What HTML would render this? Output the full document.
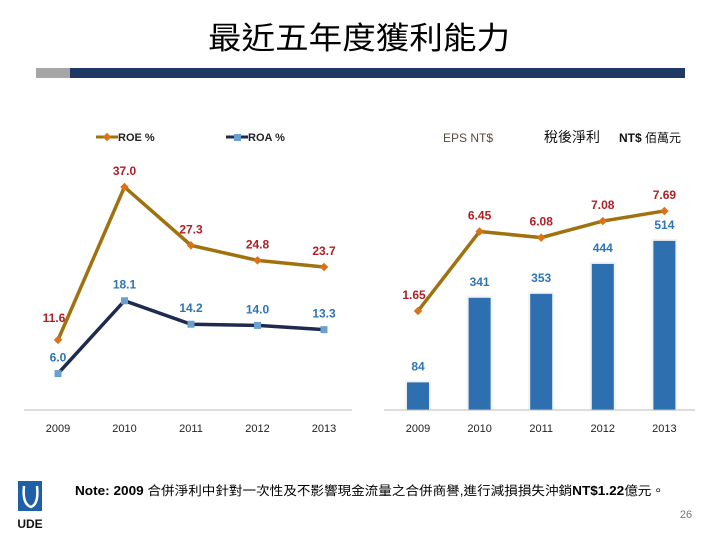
<!DOCTYPE html>
<html><head><meta charset="utf-8">
<style>
body{margin:0;width:720px;height:540px;background:#fff;overflow:hidden;font-family:"Liberation Sans","Noto Sans CJK TC",sans-serif;}
svg{position:absolute;left:0;top:0}
</style></head>
<body>
<svg width="720" height="540">
<text x="359" y="49" text-anchor="middle" font-size="31" textLength="302" lengthAdjust="spacingAndGlyphs" fill="#000" font-family="Liberation Sans, Noto Sans CJK TC, sans-serif">最近五年度獲利能力</text>
<rect x="36" y="68" width="34" height="10" fill="#a6a6a6"/>
<rect x="70" y="68" width="615" height="10" fill="#1f3864"/>
<g id="left"></g>
<g id="right"></g>
<g>
<rect x="18" y="481" width="24" height="30" fill="#1f5fa8"/>
<path d="M24 486 Q22 504 31 507 Q39 504 37 486" stroke="#fff" stroke-width="2.5" fill="none"/>
<text x="30" y="528" text-anchor="middle" font-size="12" font-weight="bold" fill="#111">UDE</text>
</g>
<text x="75" y="495" font-size="12.5" textLength="590" lengthAdjust="spacingAndGlyphs" fill="#000" font-family="Liberation Sans, Noto Sans CJK TC, sans-serif"><tspan font-weight="bold">Note: 2009</tspan> 合併淨利中針對一次性及不影響現金流量之合併商譽,進行減損損失沖銷<tspan font-weight="bold">NT$1.22</tspan>億元。</text>
<text x="686" y="518" text-anchor="middle" font-size="11" fill="#777">26</text>
</svg>
<script>
const years=["2009","2010","2011","2012","2013"];
const roe=[11.6,37.0,27.3,24.8,23.7];
const roa=[6.0,18.1,14.2,14.0,13.3];
const eps=[1.65,6.45,6.08,7.08,7.69];
const profit=[84,341,353,444,514];
const NS="http://www.w3.org/2000/svg";
function mk(p,t,a,txt){const e=document.createElementNS(NS,t);for(const k in a)e.setAttribute(k,a[k]);if(txt!==undefined)e.textContent=txt;p.appendChild(e);return e;}
const L=document.getElementById('left'),R=document.getElementById('right');
const lx=i=>58+i*66.5, ly=v=>409.7-6.02*v;
let e=mk(L,'line',{x1:24,y1:410,x2:352,y2:410,stroke:'#bbb','stroke-width':1});

years.forEach((y,i)=>{e=mk(L,'text',{x:lx(i),y:432,'text-anchor':'middle','font-size':11,fill:'#222'},y);
});
e=mk(L,'line',{x1:96,y1:137,x2:118,y2:137,stroke:'#a0720f','stroke-width':3});
e=mk(L,'rect',{x:104,y:134,width:6,height:6,fill:'#d9731a',transform:'rotate(45 107 137)'});
e=mk(L,'text',{x:118,y:141,'font-size':11,'font-weight':'bold',fill:'#222'},'ROE %');
e=mk(L,'line',{x1:226,y1:137,x2:248,y2:137,stroke:'#1f2a4f','stroke-width':3});
e=mk(L,'rect',{x:234,y:134,width:7,height:7,fill:'#6a9fcf'});
e=mk(L,'text',{x:248,y:141,'font-size':11,'font-weight':'bold',fill:'#222'},'ROA %');
function series(G,vals,fx,fy,col,mcol,shape,lcol,dy,fmt,name,firstDx,firstDy){
 e=mk(G,'polyline',{points:vals.map((v,i)=>fx(i)+','+fy(v)).join(' '),fill:'none',stroke:col,'stroke-width':3.5});
 
 vals.forEach((v,i)=>{const x=fx(i),y=fy(v);
  if(shape==='d'){e=mk(G,'rect',{x:x-3,y:y-3,width:6,height:6,fill:mcol,transform:`rotate(45 ${x} ${y})`});}
  else{e=mk(G,'rect',{x:x-3.5,y:y-3.5,width:7,height:7,fill:mcol});}
  
  e=mk(G,'text',{x:x+(i===0?firstDx:0),y:y+(i===0?firstDy:dy),'text-anchor':'middle','font-size':12,'font-weight':'bold',fill:lcol},v.toFixed(fmt));
  
 });
}
series(L,roe,lx,ly,'#a0720f','#d9731a','d','#b01f24',-12,1,'roe',-4,-18);
series(L,roa,lx,ly,'#1f2a4f','#6a9fcf','s','#2e75b6',-12,1,'roa',0,-12);
const rx=i=>418+i*61.6, by=v=>410-0.329*v, ey=v=>338.3-16.56*v;
e=mk(R,'text',{x:468,y:142,'text-anchor':'middle','font-size':12,fill:'#5a4a3a'},'EPS  NT$');
e=mk(R,'text',{x:544,y:142,'font-size':14,fill:'#111'},'稅後淨利 ');
e=mk(R,'text',{x:619,y:142,'font-size':12,fill:'#111'},'');e.innerHTML='<tspan font-weight="bold">NT$</tspan> 佰萬元';
profit.forEach((v,i)=>{const x=rx(i),y=by(v);
 e=mk(R,'rect',{x:x-13,y:y-2,width:26,height:410-y+2,fill:'#f2f2f2'});
 e=mk(R,'rect',{x:x-11,y:y,width:22,height:410-y,fill:'#2e6fb0'});
 e=mk(R,'text',{x:x,y:y-12,'text-anchor':'middle','font-size':12,'font-weight':'bold',fill:'#2e75b6'},String(v));
});
e=mk(R,'line',{x1:384,y1:410,x2:695,y2:410,stroke:'#bbb','stroke-width':1});
years.forEach((y,i)=>{e=mk(R,'text',{x:rx(i),y:432,'text-anchor':'middle','font-size':11,fill:'#222'},y);
});
series(R,eps,rx,ey,'#a0720f','#d9731a','d','#b01f24',-12,2,'eps',-4,-12);
</script>
</body></html>
